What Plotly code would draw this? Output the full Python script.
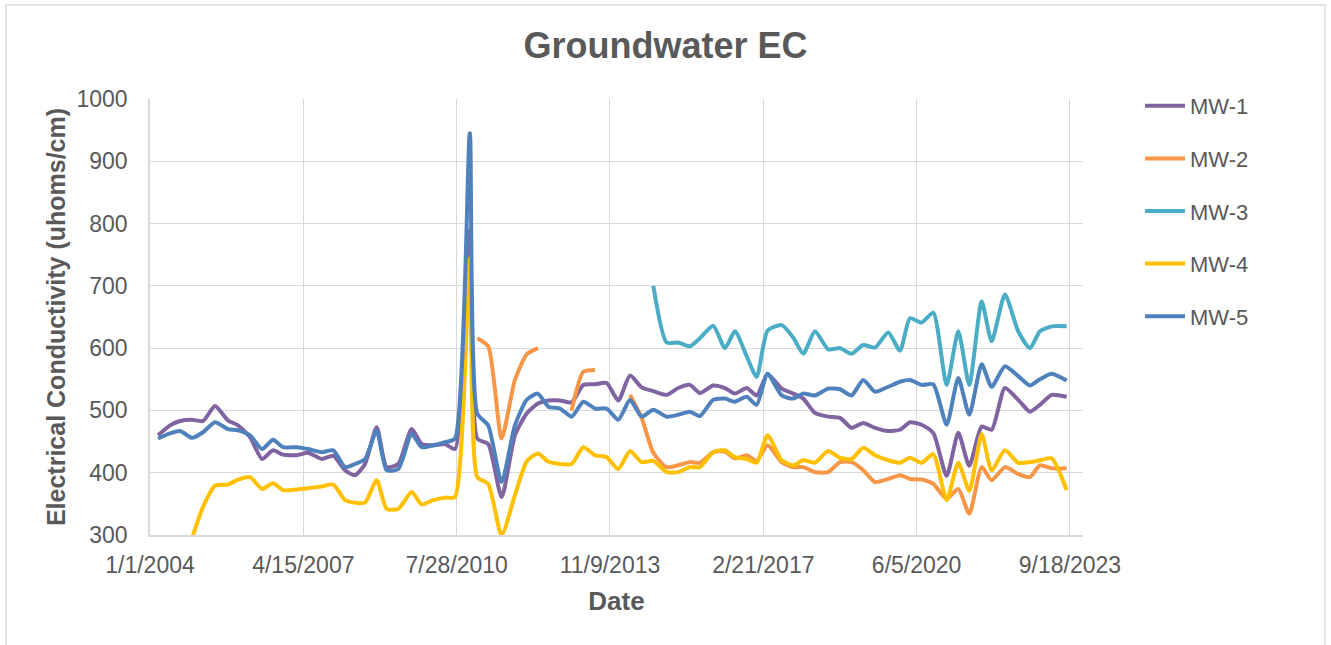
import plotly.graph_objects as go

DATES = [
    "2004-03-04", "2004-06-06", "2004-08-23", "2004-11-25", "2005-02-19", "2005-05-24", "2005-09-02", "2005-11-20", "2006-02-22", "2006-05-27",
    "2006-08-21", "2006-11-07", "2007-02-24", "2007-05-22", "2007-09-06", "2007-12-06", "2008-03-06", "2008-05-23", "2008-08-10", "2008-11-09",
    "2009-01-26", "2009-04-27", "2009-08-10", "2009-10-27", "2010-01-26", "2010-04-28", "2010-07-15", "2010-11-08", "2011-01-05", "2011-04-01",
    "2011-07-15", "2011-10-27", "2012-01-27", "2012-04-24", "2012-07-14", "2012-10-14", "2013-01-13", "2013-04-14", "2013-07-15", "2013-10-14",
    "2014-01-13", "2014-04-15", "2014-07-15", "2014-10-14", "2015-01-26", "2015-04-27", "2015-07-28", "2015-10-14", "2016-01-26", "2016-04-27",
    "2016-07-14", "2016-10-14", "2016-12-31", "2017-03-26", "2017-07-15", "2017-10-13", "2017-12-31", "2018-04-01", "2018-07-14", "2018-10-14",
    "2019-01-13", "2019-04-14", "2019-07-15", "2019-10-27", "2020-01-27", "2020-04-14", "2020-07-14", "2020-10-13", "2021-01-26", "2021-04-27",
    "2021-07-22", "2021-10-27", "2022-01-13", "2022-04-27", "2022-08-09", "2022-11-09", "2023-01-26", "2023-04-28", "2023-08-23",
]

MW1 = [460, 476, 483, 485, 483, 507, 484, 476, 457, 422,
       436, 429, 428, 432, 422, 427, 404, 396, 414, 473,
       409, 414, 470, 446, 444, 446, 438, 790, 455, 446,
       361, 460, 495, 511, 516, 516, 513, 541, 542, 544,
       516, 556, 537, 531, 525, 536, 541, 528, 540, 536,
       527, 536, 524, 558, 535, 527, 519, 496, 490, 488,
       472, 480, 472, 467, 469, 481, 477, 464, 395, 464,
       411, 474, 469, 536, 517, 498, 509, 525, 522]

MW2 = [None] * 28 + [616, 603, 455, 549, 590, 600, None, None, 500, 562, 565, None, None,
                     525, 488, 432, 409, 412, 417, 416, 433, 434, 423, 428, 419, 444, 417, 409, 409,
                     401, 401, 417, 417, 404, 385, 390, 396, 390, 389, 382, 358, 374, 334, 409, 388,
                     409, 398, 393, 412, 407, 407]

MW3 = [None] * 43 + [700, 609, 609, 603, 616, 636, 600, 627, 587, 554,
                     628, 637, 617, 591, 627, 598, 600, 591, 605, 601,
                     625, 596, 648, 641, 657, 541, 627, 541, 675, 611,
                     686, 627, 600, 627, 635, 635]

MW4 = [None, None, None, 295, 345, 379, 381, 389, 393, 374,
       383, 372, 373, 375, 378, 381, 356, 352, 352, 388,
       342, 342, 369, 349, 356, 360, 361, 744, 393, 382,
       300, 364, 418, 431, 418, 414, 414, 441, 428, 425,
       406, 435, 417, 419, 401, 401, 409, 409, 433, 436,
       425, 422, 416, 460, 420, 412, 420, 416, 435, 424,
       422, 440, 428, 420, 416, 424, 416, 430, 356, 416,
       371, 462, 404, 436, 416, 417, 420, 423, 372]

MW5 = [455, 463, 467, 456, 465, 481, 470, 468, 460, 438,
       453, 441, 441, 438, 433, 436, 409, 414, 422, 467,
       404, 406, 462, 441, 444, 449, 455, 945, 495, 476,
       385, 476, 517, 527, 506, 503, 490, 514, 503, 503,
       485, 517, 490, 501, 490, 493, 498, 491, 517, 519,
       514, 522, 509, 559, 524, 519, 527, 524, 535, 534,
       524, 549, 530, 538, 546, 549, 541, 542, 477, 552,
       493, 574, 538, 571, 555, 540, 550, 559, 548]

SERIES_NAMES = ["MW-1", "MW-2", "MW-3", "MW-4", "MW-5"]
SERIES_VALUES = [MW1, MW2, MW3, MW4, MW5]
SERIES_COLORS = ["#8064A2", "#F79646", "#4BACC6", "#FFC000", "#4F81BD"]

TICK_DATES = ["2004-01-01", "2007-04-15", "2010-07-28", "2013-11-09", "2017-02-21", "2020-06-05", "2023-09-18"]
TICK_LABELS = ["1/1/2004", "4/15/2007", "7/28/2010", "11/9/2013", "2/21/2017", "6/5/2020", "9/18/2023"]

FONT = "Liberation Sans, Arial, sans-serif"
TXT = "#595959"
GRID = "#d9d9d9"

fig = go.Figure()
for name, vals, color in zip(SERIES_NAMES, SERIES_VALUES, SERIES_COLORS):
    fig.add_trace(go.Scatter(
        x=DATES, y=vals, mode="lines", name=name, legendgroup=name,
        line=dict(color=color, width=4, shape="spline", smoothing=0.6),
        connectgaps=False,
    ))

W, H = 1331, 645
L, R, T, B = 150, 1083, 99, 535
fig.update_layout(
    width=W, height=H,
    margin=dict(l=L, r=W - R, t=T, b=H - B, pad=0),
    paper_bgcolor="white", plot_bgcolor="white",
    font=dict(family=FONT, color=TXT, size=22),
    title=dict(text="<b>Groundwater EC</b>", x=0.5, xref="container", xanchor="center",
               y=1 - 45 / H, yref="container", yanchor="middle",
               font=dict(size=36, color=TXT, family=FONT)),
    legend=dict(x=(1140 - L) / (R - L), y=(B - 85) / (B - T), xanchor="left", yanchor="top",
                font=dict(size=22, color=TXT, family=FONT), tracegroupgap=21, itemwidth=40,
                bgcolor="rgba(0,0,0,0)", borderwidth=0),
    xaxis=dict(type="date", range=["2004-01-01", "2023-12-29"],
               tickmode="array", tickvals=TICK_DATES, ticktext=TICK_LABELS,
               showgrid=True, gridcolor=GRID, gridwidth=1.3,
               showline=True, linecolor=GRID, linewidth=1.5, zeroline=False,
               ticks="", ticklabelstandoff=9,
               tickfont=dict(size=23, color=TXT, family=FONT),
               title=dict(text="<b>Date</b>", font=dict(size=26, color=TXT, family=FONT), standoff=14)),
    yaxis=dict(range=[300, 1000], tick0=300, dtick=100,
               showgrid=True, gridcolor=GRID, gridwidth=1.3,
               showline=True, linecolor=GRID, linewidth=1.5, zeroline=False,
               ticks="", ticklabelstandoff=16,
               tickfont=dict(size=23, color=TXT, family=FONT),
               title=dict(text="<b>Electrical Conductivity (uhoms/cm)</b>",
                          font=dict(size=25, color=TXT, family=FONT), standoff=4)),
    shapes=[dict(type="rect", xref="paper", yref="paper",
                 x0=(6 - L) / (R - L), x1=(1325 - L) / (R - L),
                 y0=(B - 700) / (B - T), y1=(B - 5) / (B - T),
                 line=dict(color=GRID, width=1.3), fillcolor="rgba(0,0,0,0)", layer="below")],
)

fig.write_html("out.html", config={"displayModeBar": False},
               post_script="document.body.style.margin='0';")
